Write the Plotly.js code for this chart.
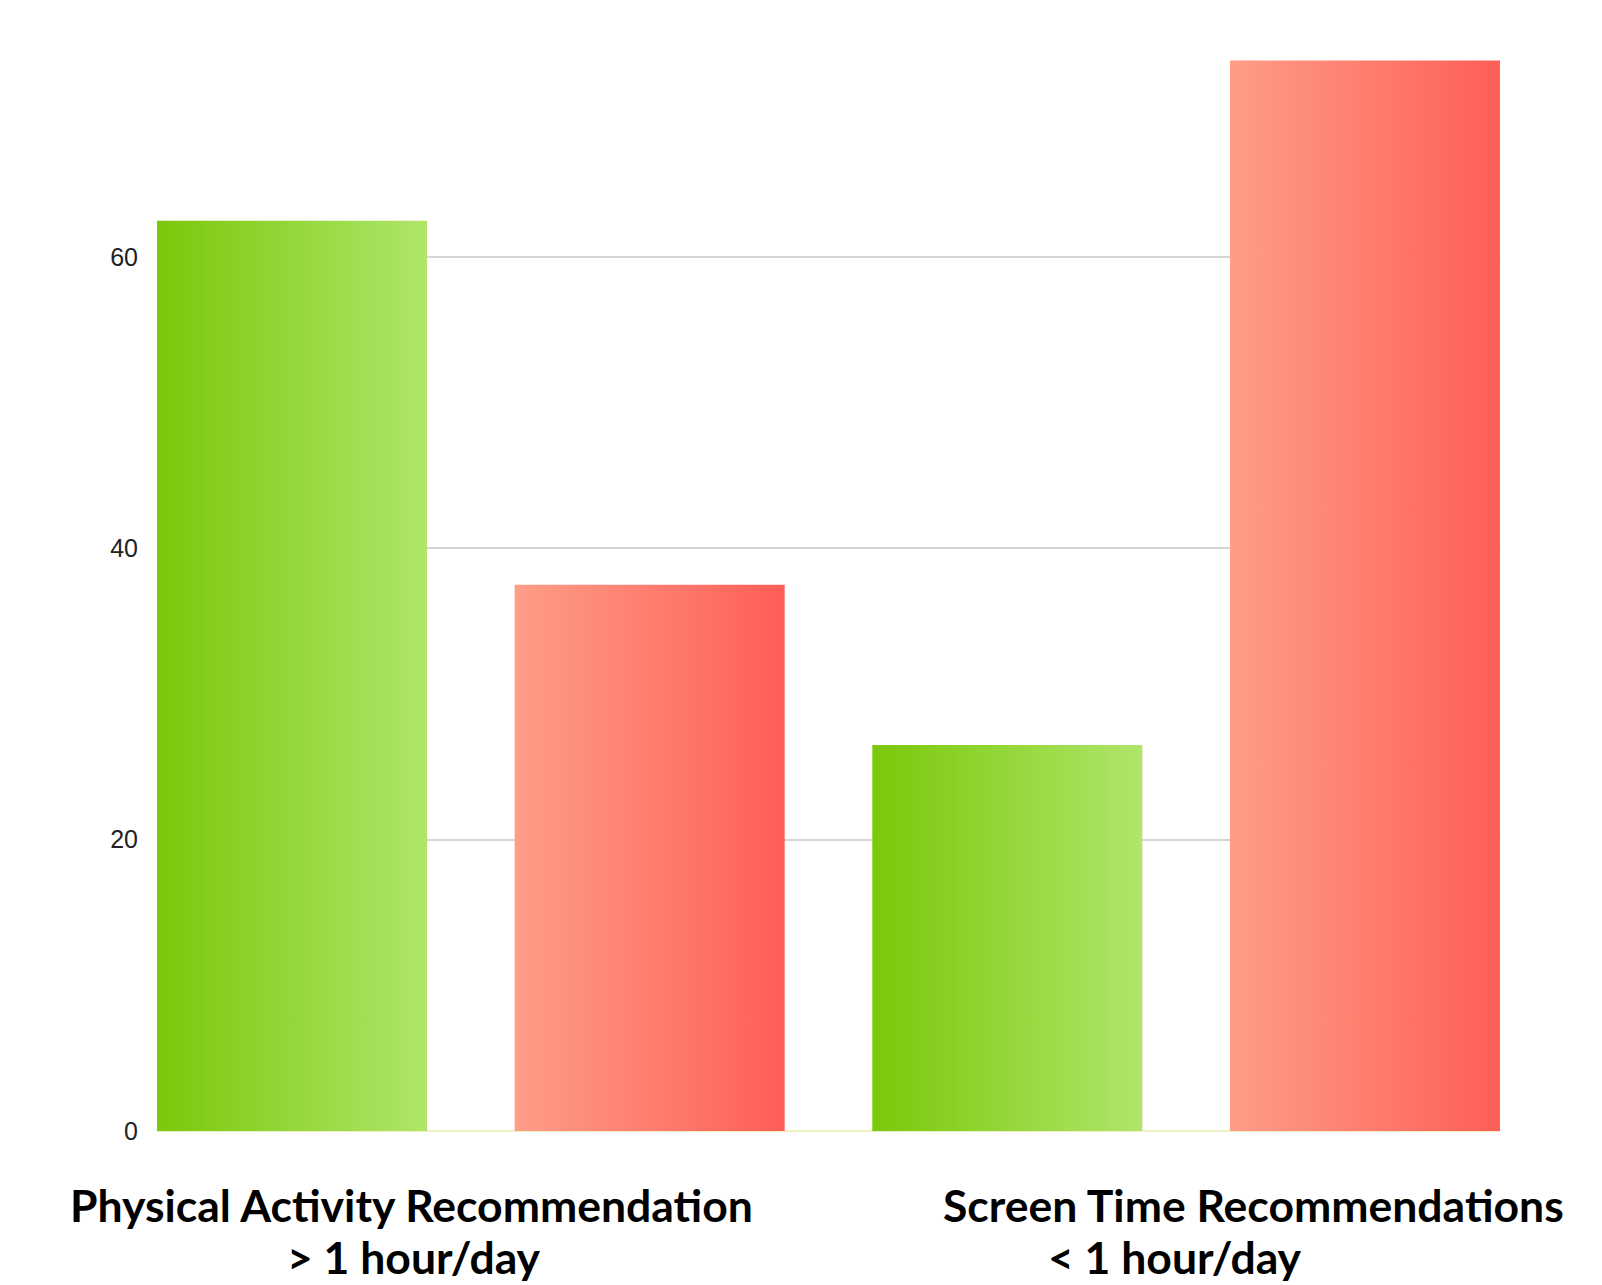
<!DOCTYPE html>
<html>
<head>
<meta charset="utf-8">
<script src="https://cdn.plot.ly/plotly-3.0.1.min.js"></script>
<style>
  html, body { margin: 0; padding: 0; background: #ffffff; }
  #chart { width: 1602px; height: 1285px; }
</style>
</head>
<body>
<div id="chart"></div>
<script>
// ---- data ----
const groups = ['Physical Activity Recommendation', 'Screen Time Recommendations'];
const groupSubLabels = ['> 1 hour/day', '< 1 hour/day'];
const metValues = [62.5, 26.5];
const notMetValues = [37.5, 73.5];
const yTickValues = [0, 20, 40, 60];
const yTickLabels = ['0', '20', '40', '60'];

function esc(s) { return s.replace(/&/g, '&amp;').replace(/</g, '&lt;').replace(/>/g, '&gt;'); }

const traces = [
  { type: 'bar', x: groups, y: metValues, name: 'Met',
    marker: { color: '#95d63a', line: { width: 0 } }, hoverinfo: 'none' },
  { type: 'bar', x: groups, y: notMetValues, name: 'Not met',
    marker: { color: '#ff7f6e', line: { width: 0 } }, hoverinfo: 'none' }
];

const labelFont = { family: 'Lato, "Open Sans", sans-serif', size: 44.5, color: '#000000', weight: 'bold' };
const line1X = [0.1897, 0.8161];
const line2X = [0.1911, 0.7579];
const annotations = [];
groups.forEach((g, i) => {
  annotations.push({ xref: 'paper', yref: 'paper', x: line1X[i], y: 0, xanchor: 'center', yanchor: 'top',
    yshift: -45, text: '<b>' + esc(g) + '</b>', showarrow: false, font: labelFont });
  annotations.push({ xref: 'paper', yref: 'paper', x: line2X[i], y: 0, xanchor: 'center', yanchor: 'top',
    yshift: -97, text: '<b>' + esc(groupSubLabels[i]) + '</b>', showarrow: false, font: labelFont });
});

const layout = {
  width: 1602, height: 1285,
  margin: { l: 157, r: 102, t: 24, b: 154 },
  paper_bgcolor: '#ffffff', plot_bgcolor: '#ffffff',
  showlegend: false,
  barmode: 'group', bargap: 0, bargroupgap: 0.245,
  xaxis: { type: 'category', range: [-0.4388, 1.4388], showticklabels: false,
    showgrid: false, zeroline: false, showline: false, ticks: '' },
  yaxis: { range: [0, 76], tickvals: yTickValues, ticktext: yTickLabels,
    tickfont: { family: '"Liberation Sans", Arial, sans-serif', size: 25, color: '#222222' },
    ticklabelstandoff: 18,
    showgrid: true, gridcolor: '#d6d6d6', gridwidth: 2,
    zeroline: true, zerolinecolor: '#eef0c4', zerolinewidth: 2,
    showline: false, ticks: '' },
  annotations: annotations
};

Plotly.newPlot('chart', traces, layout, { staticPlot: true, displayModeBar: false }).then(gd => {
  const svg = gd.querySelector('svg.main-svg');
  const ns = 'http://www.w3.org/2000/svg';
  let defs = svg.querySelector('defs');
  if (!defs) { defs = document.createElementNS(ns, 'defs'); svg.insertBefore(defs, svg.firstChild); }
  function grad(id, c1, c2) {
    const lg = document.createElementNS(ns, 'linearGradient');
    lg.setAttribute('id', id);
    lg.setAttribute('x1', '0'); lg.setAttribute('y1', '0');
    lg.setAttribute('x2', '1'); lg.setAttribute('y2', '0');
    const s1 = document.createElementNS(ns, 'stop'); s1.setAttribute('offset', '0'); s1.setAttribute('stop-color', c1);
    const s2 = document.createElementNS(ns, 'stop'); s2.setAttribute('offset', '1'); s2.setAttribute('stop-color', c2);
    lg.appendChild(s1); lg.appendChild(s2); defs.appendChild(lg);
  }
  grad('gradGreen', '#7ac80a', '#afe66a');
  grad('gradRed', '#fe9d88', '#ff5e57');
  const barTraces = gd.querySelectorAll('.barlayer .trace');
  const ids = ['gradGreen', 'gradRed'];
  barTraces.forEach((t, i) => {
    t.querySelectorAll('.point path').forEach(p => { p.style.fill = 'url(#' + ids[i] + ')'; });
  });
});
</script>
</body>
</html>
